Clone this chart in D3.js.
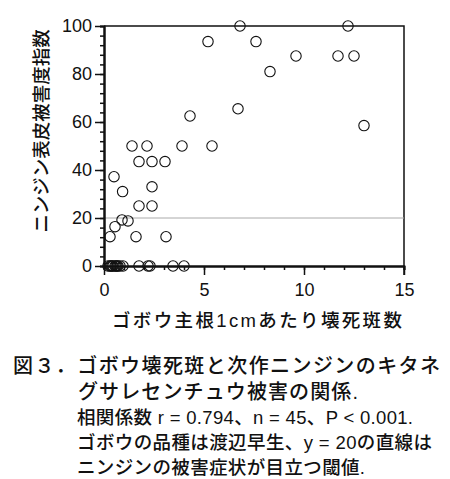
<!DOCTYPE html>
<html>
<head>
<meta charset="utf-8">
<script src="https://cdn.jsdelivr.net/npm/d3@7"></script>
<style>
  body { margin: 0; background: #fff; }
  text { font-family: "Liberation Sans", "Noto Sans CJK JP", sans-serif; fill: #111; font-weight: 500; }
</style>
</head>
<body>
<div id="chart"></div>
<script>
// Data ----------------------------------------------------------------------------------------------------------------
const lesionsPerCm = [
  6.8, 12.2, 5.2, 7.6, 9.6, 11.7, 12.5, 8.3, 6.7, 4.3, 13.0,
  1.4, 2.15, 3.9, 5.4, 1.75, 2.4, 3.05,
  0.5, 2.4, 0.93, 1.75, 2.4, 0.9, 1.2, 0.55, 0.3, 1.6, 3.1,
  0.2, 0.3, 0.35, 0.4, 0.45, 0.55, 0.6, 0.65, 0.7, 0.8, 0.95, 1.75, 2.2, 2.3, 3.45, 4.0
];
const damageIndex = [
  100, 100, 93.5, 93.5, 87.5, 87.5, 87.5, 81, 65.5, 62.5, 58.5,
  50, 50, 50, 50, 43.5, 43.5, 43.5,
  37.2, 33, 31, 25, 25, 19.2, 18.8, 16.4, 12.2, 12.2, 12.2,
  0, 0, 0, 0, 0, 0, 0, 0, 0, 0, 0, 0, 0, 0, 0, 0
];
const xTicks = [0, 5, 10, 15];
const yTicks = [0, 20, 40, 60, 80, 100];
const threshold = 20;

const xTitle = "ゴボウ主根1cmあたり壊死斑数";
const yTitle = "ニンジン表皮被害度指数";
const captionLines = [
  "図３．ゴボウ壊死斑と次作ニンジンのキタネ",
  "グサレセンチュウ被害の関係.",
  "相関係数 r = 0.794、n = 45、P < 0.001.",
  "ゴボウの品種は渡辺早生、y = 20の直線は",
  "ニンジンの被害症状が目立つ閾値."
];

// Canvas --------------------------------------------------------------------------------------------------------------
const canvasWidth = 450;
const canvasHeight = 479;
const plotLeft = 104, plotRight = 404, plotTop = 26, plotBottom = 266;

const svg = d3.select("#chart")
  .append("svg")
  .attr("width", canvasWidth)
  .attr("height", canvasHeight);

const xScale = d3.scaleLinear().domain([0, 15]).range([plotLeft, plotRight]);
const yScale = d3.scaleLinear().domain([0, 100]).range([plotBottom, plotTop]);

// Frame (top and right)
svg.append("path")
  .attr("d", "M" + plotLeft + "," + plotTop + "H" + plotRight + "V" + (plotBottom + 9))
  .attr("fill", "none")
  .attr("stroke", "#111")
  .attr("stroke-width", 1.5);

// Threshold line
svg.append("line")
  .attr("x1", xScale(0)).attr("x2", xScale(15))
  .attr("y1", yScale(threshold)).attr("y2", yScale(threshold))
  .attr("stroke", "#aaa")
  .attr("stroke-width", 1);

// Axes ----------------------------------------------------------------------------------------------------------------
const yMinor = svg.append("g")
  .attr("transform", "translate(" + plotLeft + ",0)")
  .call(d3.axisLeft(yScale).tickValues(d3.range(0, 101, 4)).tickSize(4).tickFormat(""));
const yAxis = svg.append("g")
  .attr("transform", "translate(" + plotLeft + ",0)")
  .call(d3.axisLeft(yScale).tickValues(yTicks).tickSize(9).tickSizeOuter(0).tickPadding(3));

const xMinor = svg.append("g")
  .attr("transform", "translate(0," + plotBottom + ")")
  .call(d3.axisBottom(xScale).tickValues(d3.range(0, 16, 1)).tickSize(4).tickFormat(""));
const xAxis = svg.append("g")
  .attr("transform", "translate(0," + plotBottom + ")")
  .call(d3.axisBottom(xScale).tickValues(xTicks).tickSize(9).tickSizeOuter(0).tickPadding(8));

svg.selectAll(".domain").attr("stroke", "#111").attr("stroke-width", 2);
svg.selectAll(".tick line").attr("stroke", "#111").attr("stroke-width", 1.5);
svg.selectAll(".tick text")
  .style("font-size", "18px")
  .style("font-family", "'Liberation Sans', sans-serif")
  .attr("fill", "#111");

// Axis titles
svg.append("text")
  .text(yTitle)
  .attr("transform", "translate(48,131) rotate(-90)")
  .style("text-anchor", "middle")
  .style("font-size", "18.5px");

svg.append("text")
  .text(xTitle)
  .attr("x", 257)
  .attr("y", 327)
  .attr("textLength", 290)
  .attr("lengthAdjust", "spacing")
  .style("text-anchor", "middle")
  .style("font-size", "18.5px");

// Points --------------------------------------------------------------------------------------------------------------
svg.append("g")
  .selectAll("circle")
  .data(d3.zip(lesionsPerCm, damageIndex))
  .join("circle")
  .attr("cx", d => xScale(d[0]))
  .attr("cy", d => yScale(d[1]))
  .attr("r", 5.2)
  .attr("fill", "none")
  .attr("stroke", "#111")
  .attr("stroke-width", 1.1);

// Caption -------------------------------------------------------------------------------------------------------------
const captionX = [13, 78, 77, 77, 77];
const captionY = [373, 399, 424, 449, 474];
const captionSize = [20, 20, 18.5, 18.5, 18.5];
const captionLength = [427, 280, 336, 355, 288];
svg.append("g")
  .selectAll("text")
  .data(captionLines)
  .join("text")
  .text(d => d)
  .attr("x", (d, i) => captionX[i])
  .attr("y", (d, i) => captionY[i])
  .attr("textLength", (d, i) => captionLength[i])
  .attr("lengthAdjust", "spacing")
  .style("font-size", (d, i) => captionSize[i] + "px");
</script>
</body>
</html>
